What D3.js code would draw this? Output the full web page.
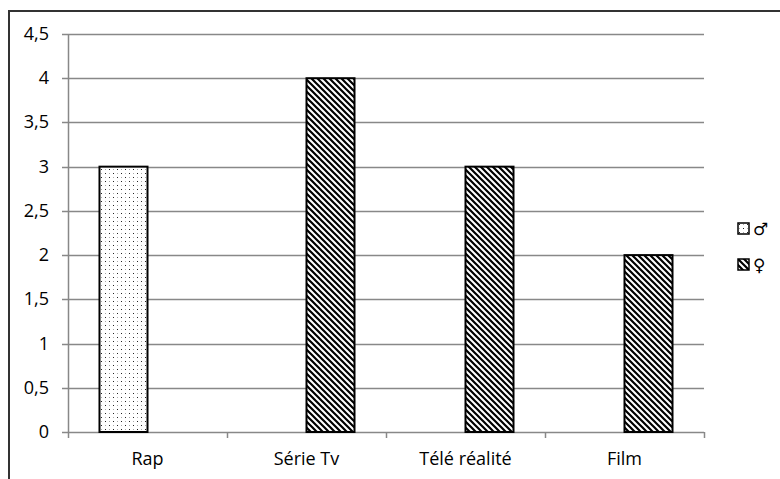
<!DOCTYPE html>
<html>
<head>
<meta charset="utf-8">
<script src="https://cdn.jsdelivr.net/npm/d3@7"></script>
<style>
  body { margin: 0; background: #fff; }
  text { font-family: "Open Sans", "Noto Sans", sans-serif; font-size: 18px; fill: #000; }
  .sym { font-family: "DejaVu Sans", sans-serif; font-size: 17px; }
</style>
</head>
<body>
<div></div>
<script>
const categories = ["Rap", "Série Tv", "Télé réalité", "Film"];
const seriesNames = ["♂", "♀"];
const maleValues = [3, 0, 0, 0];
const femaleValues = [0, 4, 3, 2];
const yTicks = [0, 0.5, 1, 1.5, 2, 2.5, 3, 3.5, 4, 4.5];

const width = 780, height = 479;
const margin = { left: 68, right: 76, top: 34, bottom: 47 };

const svg = d3.select("div").append("svg").attr("width", width).attr("height", height);

const defs = svg.append("defs");
// dotted pattern for ♂
const dots = defs.append("pattern").attr("id", "dots").attr("patternUnits", "userSpaceOnUse")
  .attr("width", 8).attr("height", 8);
dots.append("rect").attr("width", 8).attr("height", 8).attr("fill", "#fff");
[[1, 1, "#222"], [5, 5, "#222"], [5, 1, "#aaa"], [1, 5, "#aaa"]].forEach(d => {
  dots.append("rect").attr("x", d[0]).attr("y", d[1]).attr("width", 1).attr("height", 1).attr("fill", d[2]);
});
// downward diagonal hatch for ♀
const hatch = defs.append("pattern").attr("id", "hatch").attr("patternUnits", "userSpaceOnUse")
  .attr("width", 6).attr("height", 6);
hatch.append("rect").attr("width", 6).attr("height", 6).attr("fill", "#fff");
hatch.append("path").attr("d", "M-1,-1 L7,7 M-1,5 L1,7 M5,-1 L7,1")
  .attr("stroke", "#000").attr("stroke-width", 2.2);

const fills = { "♂": "url(#dots)", "♀": "url(#hatch)" };

// outer frame
svg.append("path").attr("d", "M9,479 V11 H780").attr("fill", "none")
  .attr("stroke", "#333").attr("stroke-width", 2);

const x0 = d3.scaleBand().domain(categories).range([margin.left, width - margin.right]);
const x1 = d3.scaleBand().domain(seriesNames).range([0, x0.bandwidth()]).paddingOuter(0.656);
const y = d3.scaleLinear().domain([0, 4.5]).range([height - margin.bottom, margin.top]);

// gridlines
svg.append("g").selectAll("line").data(yTicks).join("line")
  .attr("x1", margin.left - 6).attr("x2", width - margin.right)
  .attr("y1", d => Math.round(y(d)) + 0.5).attr("y2", d => Math.round(y(d)) + 0.5)
  .attr("stroke", "#888").attr("stroke-width", 1.5);

// y axis line
svg.append("line").attr("x1", margin.left + 0.5).attr("x2", margin.left + 0.5)
  .attr("y1", y(4.5)).attr("y2", y(0)).attr("stroke", "#888").attr("stroke-width", 1.5);

// y labels
svg.append("g").selectAll("text").data(yTicks).join("text")
  .attr("x", 49).attr("y", d => y(d) + 6).attr("text-anchor", "end")
  .text(d => String(d).replace(".", ","));

// x ticks at category boundaries
const bounds = categories.map(c => x0(c)).concat([width - margin.right]);
svg.append("g").selectAll("line").data(bounds).join("line")
  .attr("x1", d => Math.round(d) + 0.5).attr("x2", d => Math.round(d) + 0.5)
  .attr("y1", y(0)).attr("y2", y(0) + 6).attr("stroke", "#888").attr("stroke-width", 1.5);

// bars
const rows = categories.map((c, i) => ({ cat: c, "♂": maleValues[i], "♀": femaleValues[i] }));
svg.append("g").selectAll("g").data(rows).join("g")
  .attr("transform", d => "translate(" + x0(d.cat) + ",0)")
  .selectAll("rect").data(d => seriesNames.map(s => ({ s: s, v: d[s] })).filter(e => e.v > 0)).join("rect")
  .attr("x", d => x1(d.s)).attr("width", x1.bandwidth())
  .attr("y", d => y(d.v)).attr("height", d => y(0) - y(d.v))
  .attr("fill", d => fills[d.s]).attr("stroke", "#000").attr("stroke-width", 2);

// x labels
svg.append("g").selectAll("text").data(categories).join("text")
  .attr("x", d => x0(d) + x0.bandwidth() / 2).attr("y", 465).attr("text-anchor", "middle")
  .text(d => d);

// legend
const legend = svg.append("g").selectAll("g").data(seriesNames).join("g")
  .attr("transform", (d, i) => "translate(738," + (223 + i * 36) + ")");
legend.append("rect").attr("width", 11).attr("height", 11)
  .attr("fill", d => fills[d]).attr("stroke", "#000").attr("stroke-width", 1.5);
legend.append("text").attr("class", "sym").attr("x", 15).attr("y", 12).text(d => d);
</script>
</body>
</html>
